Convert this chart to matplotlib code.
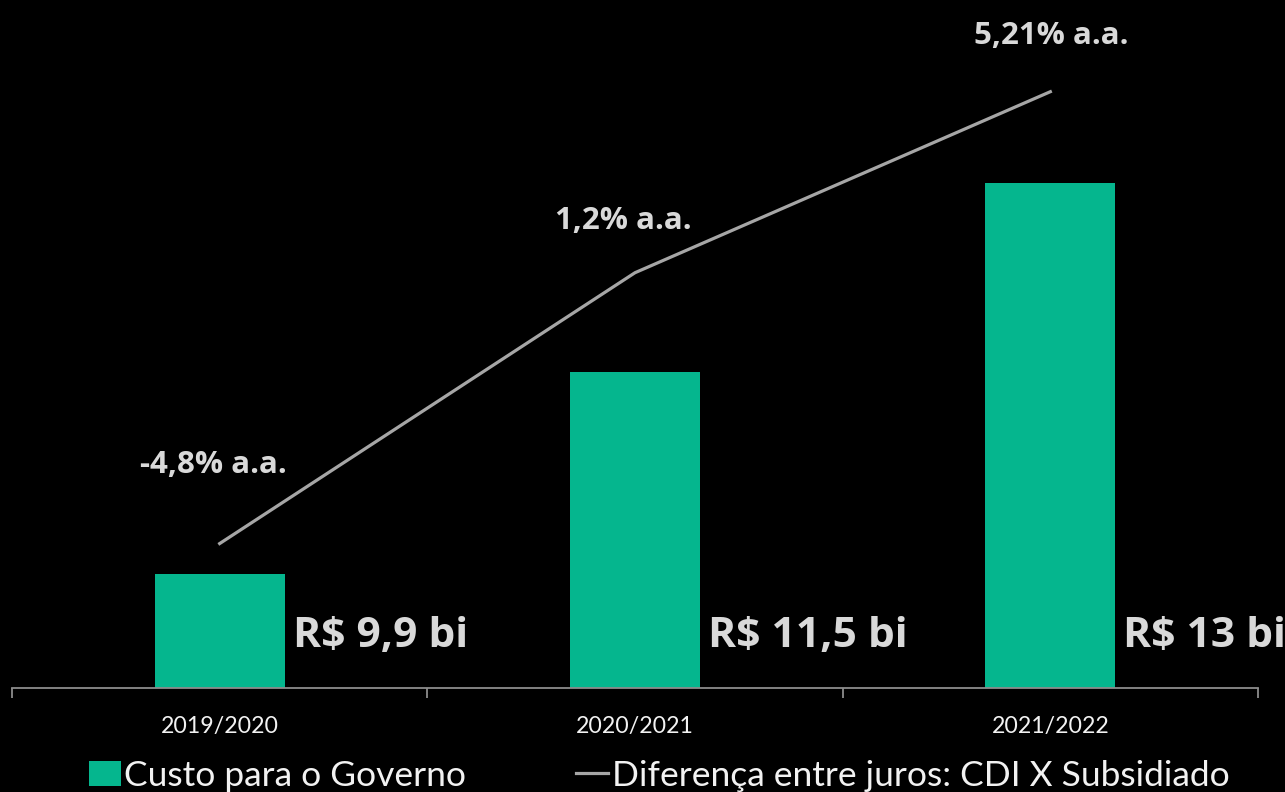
import matplotlib.pyplot as plt
from matplotlib.patches import Patch
from matplotlib.lines import Line2D

# dados
safras = ["2019/2020", "2020/2021", "2021/2022"]
custo = [9.9, 11.5, 13.0]
custo_txt = ["R$ 9,9 bi", "R$ 11,5 bi", "R$ 13 bi"]
dif_juros = [-4.8, 1.2, 5.21]
dif_txt = ["-4,8% a.a.", "1,2% a.a.", "5,21% a.a."]

cor_barra = "#05B68E"
cor_linha = "#A6A6A6"
cor_texto = "#D9D9D9"

fig = plt.figure(figsize=(12.85, 7.92), dpi=100, facecolor="black")
ax = fig.add_axes([12/1285, 104/792, 1246/1285, 678/792])
ax.set_facecolor("black")

x = range(len(safras))
ax.bar(x, custo, width=0.313, color=cor_barra, bottom=0, zorder=2)
ax.set_xlim(-0.5, 2.5)
ax.set_ylim(9.0, 14.372)

for i, t in enumerate(custo_txt):
    ax.annotate(t, (i + 0.313/2, 9.0), xytext=(8, 52), textcoords="offset pixels",
                ha="left", va="center", color=cor_texto, fontsize=30.6,
                fontweight="bold", family="Open Sans", annotation_clip=False)

# eixo secundario p/ linha
ax2 = ax.twinx()
ax2.plot(x, dif_juros, color=cor_linha, lw=2.3, solid_joinstyle="round", zorder=3)
ax2.set_ylim(-8.0, 7.02)

# deslocamento dos rotulos (pixels)
desloc = [(-6, 79), (-12, 52), (1, 56)]
for i, t in enumerate(dif_txt):
    ax2.annotate(t, (i, dif_juros[i]), xytext=desloc[i], textcoords="offset pixels",
                 ha="center", va="center", color=cor_texto, fontsize=22.5,
                 fontweight="bold", family="Open Sans")

for a in (ax, ax2):
    for s in ["top", "left", "right"]:
        a.spines[s].set_visible(False)
    a.set_yticks([])
ax.spines["bottom"].set_color("#8C8C8C")
ax.spines["bottom"].set_linewidth(1.3)
ax2.spines["bottom"].set_visible(False)

ax.set_xticks(list(x))
ax.set_xticklabels(safras, fontsize=16.7, color="#F2F2F2", family="Lato")
ax.tick_params(axis="x", which="major", length=0, pad=20)
ax.set_xticks([-0.5, 0.5, 1.5, 2.5], minor=True)
ax.tick_params(axis="x", which="minor", length=7, width=1.3, color="#8C8C8C")

handles = [Patch(facecolor=cor_barra, edgecolor="none"),
           Line2D([0], [0], color=cor_linha, lw=2.3)]
leg = fig.legend(handles, ["Custo para o Governo", "Diferença entre juros: CDI X Subsidiado"],
                 loc="lower center", bbox_to_anchor=(0.513, -0.04), ncol=2, frameon=False,
                 prop={"family": "Lato", "size": 25.5}, labelcolor="#F2F2F2",
                 handlelength=0.9, handleheight=0.7, handletextpad=0.1, columnspacing=3.1)

fig.savefig("out.png", dpi=100, facecolor="black")
